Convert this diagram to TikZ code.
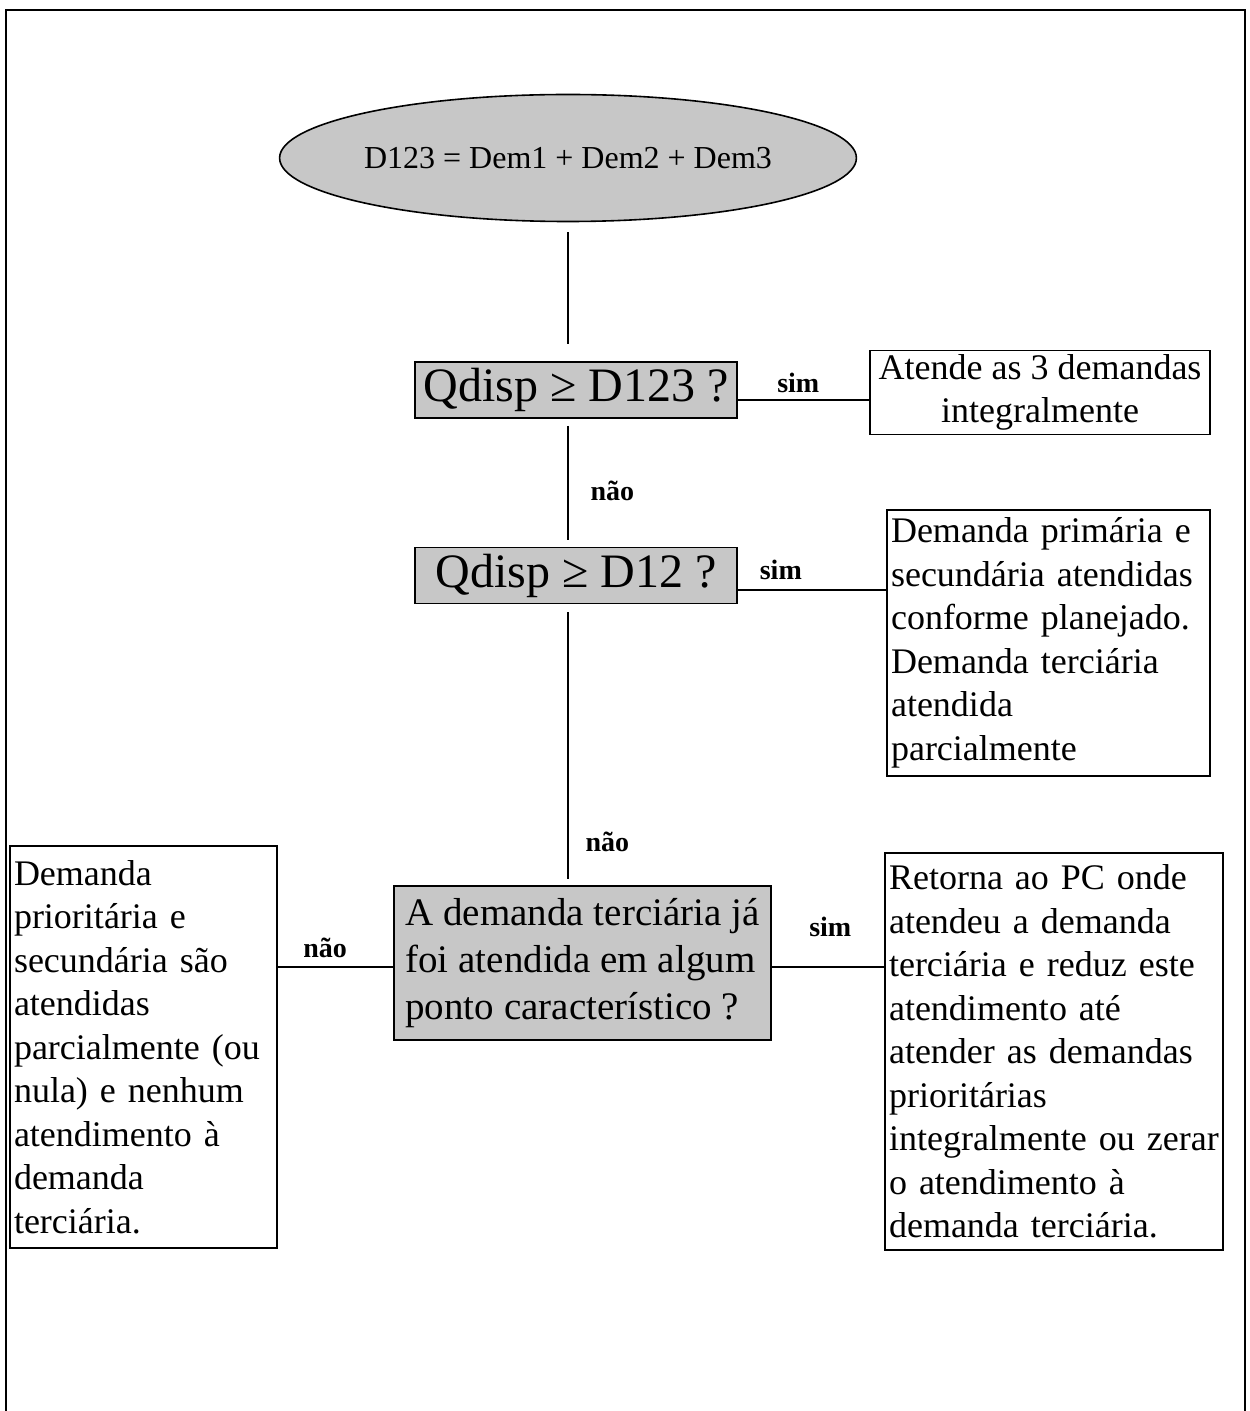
\documentclass[tikz,border=0pt]{standalone}
\usepackage{fontspec}
\setmainfont{Liberation Serif}
\usetikzlibrary{calc}
\usetikzlibrary{shapes}

\tikzset{
  startnode/.style={ellipse, draw, line width=0.8pt, fill=black!22, inner sep=0pt,
    minimum width=284pt, minimum height=63.5pt, font=\fontsize{16}{19}\selectfont},
  testbox/.style={draw, line width=0.8pt, fill=black!22, inner sep=0pt,
    minimum width=161pt, minimum height=28pt, font=\fontsize{24}{28}\selectfont},
  resbox/.style={draw, line width=0.8pt, inner sep=2pt, align=left,
    font=\fontsize{18}{21.75}\selectfont},
  conn/.style={line width=0.6pt},
  lbl/.style={inner sep=0pt, font=\fontsize{14}{16}\selectfont\bfseries}
}

\begin{document}
\begin{tikzpicture}[x=0.5pt,y=-0.5pt]
    \useasboundingbox (0,0) rectangle (1249,1411);
    % frame
    \draw[line width=1pt] (6,1411) -- (6,10) -- (1245,10) -- (1245,1411);

    % start
    \node[startnode] (soma) at (568,158) {D123 = Dem1 + Dem2 + Dem3};

    % tests
    \node[testbox] (testA) at (576,390) {Qdisp ≥ D123 ?};
    \node[testbox] (testB) at (576,575.5) {Qdisp ≥ D12 ?};
    \node[testbox, minimum width=188.5pt, minimum height=77pt,
      align=left, font=\fontsize{19.5}{23.5}\selectfont] (decisao) at (582.5,963)
      {A demanda terciária já\\foi atendida em algum\\ponto característico ?};

    % results
    \node[resbox, align=center, minimum width=170pt, minimum height=40.5pt] (atende) at (1040,392.5)
      {Atende as 3 demandas\\integralmente};
    \node[resbox, text width=157.5pt, minimum height=133pt] (parcial) at (1048.5,643)
      {Demanda primária e\\secundária atendidas\\conforme planejado.\\Demanda terciária\\atendida\\parcialmente};
    \node[resbox, text width=129.5pt, minimum height=201pt] (esquerda) at (143.5,1047)
      {Demanda\\prioritária e\\secundária são\\atendidas\\parcialmente (ou\\nula) e nenhum\\atendimento à\\demanda\\terciária.};
    \node[resbox, text width=165pt, minimum height=198.5pt] (direita) at (1054,1051.5)
      {Retorna ao PC onde\\atendeu a demanda\\terciária e reduz este\\atendimento até\\atender as demandas\\prioritárias\\integralmente ou zerar\\o atendimento à\\demanda terciária.};

    % connectors
    \draw[conn] ($(soma.south)+(0,-5pt)$) -- ($(soma.south |- testA.north)+(0,8.5pt)$);
    \draw[conn] ($(testA.east)+(0,-5pt)$) -- ($(testA.east -| atende.west)+(0,-5pt)$)
      node[lbl, pos=0.46, above=3.5pt] {sim};
    \draw[conn] ($(soma.south |- testA.south)+(0,-3.5pt)$) -- ($(soma.south |- testB.north)+(0,3.5pt)$)
      node[lbl, pos=0.57, right=11pt] {não};
    \draw[conn] ($(testB.east)+(0,-7.25pt)$) -- ($(testB.east -| parcial.west)+(0,-7.25pt)$)
      node[lbl, pos=0.29, above=5pt] {sim};
    \draw[conn] ($(soma.south |- testB.south)+(0,-4pt)$) -- ($(soma.south |- decisao.north)+(0,3pt)$)
      node[lbl, pos=0.86, right=8.5pt] {não};
    \draw[conn] ($(decisao.west)+(0,-2pt)$) -- ($(decisao.west -| esquerda.east)+(0,-2pt)$)
      node[lbl, pos=0.59, above=4.5pt] {não};
    \draw[conn] ($(decisao.east)+(0,-2pt)$) -- ($(decisao.east -| direita.west)+(0,-2pt)$)
      node[lbl, pos=0.52, above=15pt] {sim};
\end{tikzpicture}
\end{document}
